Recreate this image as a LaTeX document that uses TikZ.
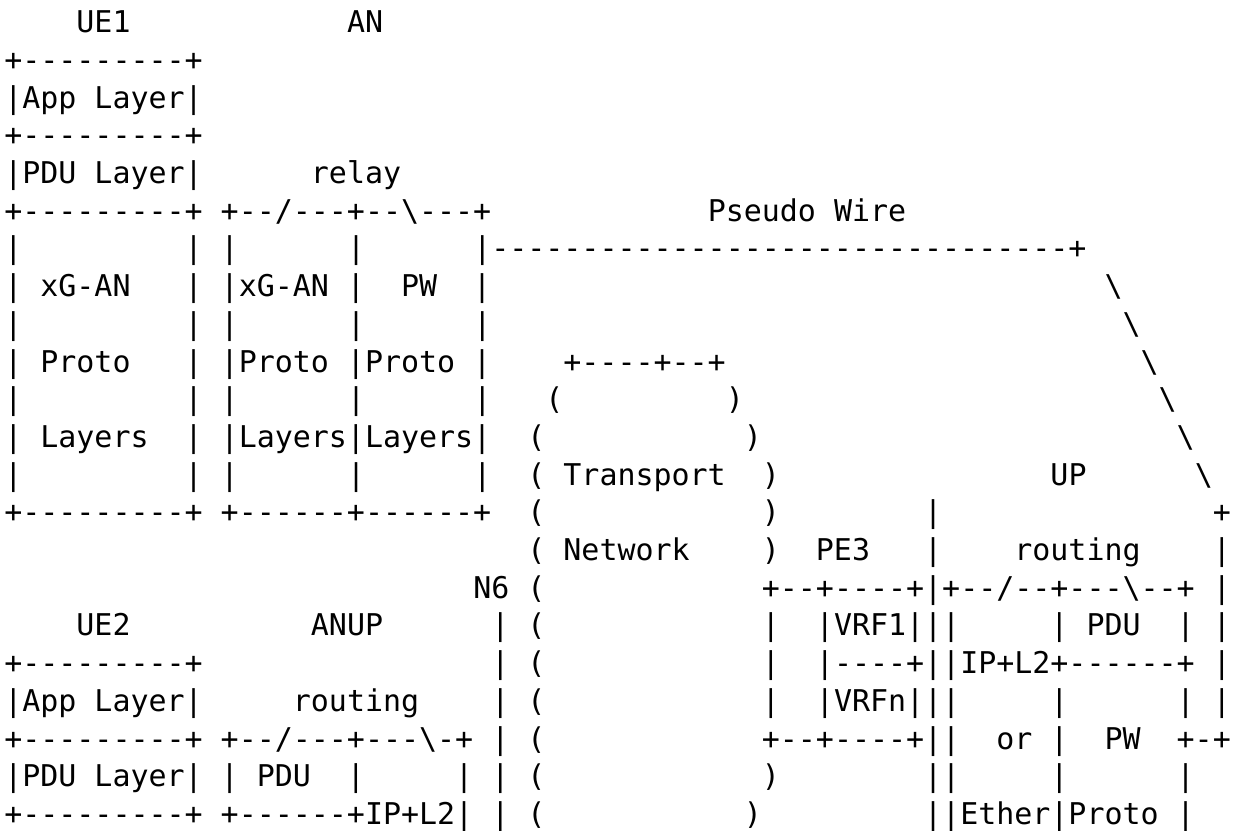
\documentclass[tikz,border=0pt]{standalone}
\usepackage{fontspec}
\setmonofont{DejaVu Sans Mono}
\newcommand\gap[1]{\hspace*{#1\fontcharwd\font`x}}
\newcommand\bs{\textbackslash}
\tikzset{asc/.style={anchor=base west, inner sep=0pt, outer sep=0pt, font=\ttfamily\fontsize{29.96}{37.7}\selectfont}}
\newcommand\txtrow[3]{\node[asc] (#1) at (4.3pt,-#2pt) {#3};}
\begin{document}
\begin{tikzpicture}
\useasboundingbox (0,0) rectangle (1239pt,-830pt);
\txtrow{r0}{32.7}{\gap{4}UE1\gap{12}AN}
\txtrow{r1}{70.4}{+---------+}
\txtrow{r2}{108.1}{|App Layer|}
\txtrow{r3}{145.8}{+---------+}
\txtrow{r4}{183.5}{|PDU Layer|\gap{6}relay}
\txtrow{r5}{221.2}{+---------+ +--/---+--\bs---+\gap{12}Pseudo Wire}
\txtrow{r6}{258.9}{|\gap{9}| |\gap{6}|\gap{6}|--------------------------------+}
\txtrow{r7}{296.6}{| xG-AN\gap{3}| |xG-AN |\gap{2}PW\gap{2}|\gap{34}\bs}
\txtrow{r8}{334.3}{|\gap{9}| |\gap{6}|\gap{6}|\gap{35}\bs}
\txtrow{r9}{372.0}{| Proto\gap{3}| |Proto |Proto |\gap{4}+----+--+\gap{23}\bs}
\txtrow{r10}{409.7}{|\gap{9}| |\gap{6}|\gap{6}|\gap{3}(\gap{9})\gap{23}\bs}
\txtrow{r11}{447.4}{| Layers\gap{2}| |Layers|Layers|\gap{2}(\gap{11})\gap{23}\bs}
\txtrow{r12}{485.1}{|\gap{9}| |\gap{6}|\gap{6}|\gap{2}( Transport\gap{2})\gap{15}UP\gap{6}\bs}
\txtrow{r13}{522.8}{+---------+ +------+------+\gap{2}(\gap{12})\gap{8}|\gap{15}+}
\txtrow{r14}{560.5}{\gap{29}( Network\gap{4})\gap{2}PE3\gap{3}|\gap{4}routing\gap{4}|}
\txtrow{r15}{598.2}{\gap{26}N6 (\gap{12}+--+----+|+--/--+---\bs--+ |}
\txtrow{r16}{635.9}{\gap{4}UE2\gap{10}ANUP\gap{6}| (\gap{12}|\gap{2}|VRF1|||\gap{5}| PDU\gap{2}| |}
\txtrow{r17}{673.6}{+---------+\gap{16}| (\gap{12}|\gap{2}|----+||IP+L2+------+ |}
\txtrow{r18}{711.3}{|App Layer|\gap{5}routing\gap{4}| (\gap{12}|\gap{2}|VRFn|||\gap{5}|\gap{6}| |}
\txtrow{r19}{749.0}{+---------+ +--/---+---\bs-+ | (\gap{12}+--+----+||\gap{2}or |\gap{2}PW\gap{2}+-+}
\txtrow{r20}{786.7}{|PDU Layer| | PDU\gap{2}|\gap{5}| | (\gap{12})\gap{8}||\gap{5}|\gap{6}|}
\txtrow{r21}{824.4}{+---------+ +------+IP+L2| | (\gap{11})\gap{9}||Ether|Proto |}
\end{tikzpicture}
\end{document}
